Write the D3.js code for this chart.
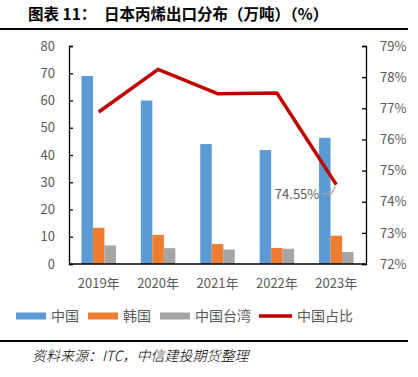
<!DOCTYPE html>
<html>
<head>
<meta charset="utf-8">
<script src="https://cdn.jsdelivr.net/npm/d3@7"></script>
<style>
  body { margin: 0; background: #fff; }
  text { font-family: "Noto Sans CJK SC", "DejaVu Sans", sans-serif; }
</style>
</head>
<body>
<div id="chart"></div>
<script>
var years = ["2019年", "2020年", "2021年", "2022年", "2023年"];
var china = [69.0, 60.0, 44.0, 41.8, 46.3];
var korea = [13.3, 10.7, 7.3, 5.9, 10.4];
var taiwan = [6.8, 5.8, 5.3, 5.6, 4.4];
var chinaShare = [76.88, 78.25, 77.47, 77.49, 74.55];
var leftTicks = [0, 10, 20, 30, 40, 50, 60, 70, 80];
var rightTicks = [72, 73, 74, 75, 76, 77, 78, 79];

var W = 418, H = 377;
var margin = { top: 46, right: 52, bottom: 113, left: 69 };
var width = W - margin.left - margin.right;
var height = H - margin.top - margin.bottom;

var svg = d3.select("#chart").append("svg")
    .attr("width", W).attr("height", H);

// title + rules
svg.append("text")
    .attr("x", 28).attr("y", 20)
    .attr("font-size", 15.5).attr("font-weight", "bold").attr("fill", "#000")
    .text("图表 11：");
svg.append("text")
    .attr("x", 104).attr("y", 20)
    .attr("font-size", 15.5).attr("font-weight", "bold").attr("fill", "#000")
    .text("日本丙烯出口分布（万吨）（%）");
svg.append("line").attr("x1", 0).attr("x2", 408).attr("y1", 29).attr("y2", 29)
    .attr("stroke", "#000").attr("stroke-width", 2);
svg.append("line").attr("x1", 0).attr("x2", 408).attr("y1", 341).attr("y2", 341)
    .attr("stroke", "#000").attr("stroke-width", 2);
svg.append("text")
    .attr("x", 32).attr("y", 361)
    .attr("font-size", 14).attr("font-style", "italic").attr("font-weight", 300).attr("fill", "#000")
    .text("资料来源：ITC，中信建投期货整理");

var g = svg.append("g").attr("transform", "translate(" + margin.left + "," + margin.top + ")");

var x = d3.scaleBand().domain(years).range([0, width]);
var y = d3.scaleLinear().domain([0, 80]).range([height, 0]);
var y2 = d3.scaleLinear().domain([72, 79]).range([height, 0]);

var series = [
    { name: "中国", values: china, color: "#5B9BD5" },
    { name: "韩国", values: korea, color: "#ED7D31" },
    { name: "中国台湾", values: taiwan, color: "#A5A5A5" }
];
var barW = 11.5;

series.forEach(function (s, si) {
    g.selectAll(".bar" + si)
        .data(s.values)
        .enter()
        .append("rect")
        .attr("x", function (d, i) { return x(years[i]) + x.bandwidth() / 2 - 1.5 * barW + si * barW; })
        .attr("y", function (d) { return y(d); })
        .attr("width", barW)
        .attr("height", function (d) { return height - y(d); })
        .attr("fill", s.color);
});

// axes
var leftAxis = g.append("g").call(d3.axisLeft(y).tickValues(leftTicks).tickSize(-4).tickPadding(14));
var rightAxis = g.append("g").attr("transform", "translate(" + width + ",0)")
    .call(d3.axisRight(y2).tickValues(rightTicks).tickSize(-4).tickPadding(14)
        .tickFormat(function (d) { return d + "%"; }));
[leftAxis, rightAxis].forEach(function (ax) {
    ax.select(".domain").attr("stroke", "#000").attr("stroke-width", 1.3);
    ax.selectAll(".tick line").attr("stroke", "#000").attr("stroke-width", 1.3);
    ax.selectAll("text").attr("fill", "#595959").attr("font-size", 13)
        .style("font-family", "'Noto Sans CJK SC', sans-serif");
});
g.append("line").attr("x1", 0).attr("x2", width).attr("y1", height).attr("y2", height)
    .attr("stroke", "#000").attr("stroke-width", 1.3);

g.selectAll(".xlab").data(years).enter().append("text")
    .attr("x", function (d) { return x(d) + x.bandwidth() / 2; })
    .attr("y", height + 24)
    .attr("text-anchor", "middle").attr("font-size", 13).attr("fill", "#595959")
    .text(function (d) { return d; });

// line
var line = d3.line()
    .x(function (d, i) { return x(years[i]) + x.bandwidth() / 2; })
    .y(function (d) { return y2(d); });
g.append("path").datum(chinaShare)
    .attr("d", line).attr("fill", "none")
    .attr("stroke", "#C00000").attr("stroke-width", 3.5).attr("stroke-linejoin", "round");

// data label with leader
var lx = x(years[4]) + x.bandwidth() / 2, ly = y2(chinaShare[4]);
g.append("polyline")
    .attr("points", [[lx - 14, ly + 9], [lx - 5, ly + 9], [lx - 1, ly + 2]].join(" "))
    .attr("fill", "none").attr("stroke", "#A6A6A6").attr("stroke-width", 1.2);
g.append("text")
    .attr("x", lx - 17).attr("y", ly + 14)
    .attr("text-anchor", "end").attr("font-size", 13).attr("fill", "#595959")
    .text(chinaShare[4].toFixed(2) + "%");

// legend
var legendItems = series.map(function (s) { return { name: s.name, color: s.color, type: "rect" }; })
    .concat([{ name: "中国占比", color: "#C00000", type: "line" }]);
var legendX = [16, 88, 160, 259];
var lg = svg.append("g").attr("transform", "translate(0,316)");
legendItems.forEach(function (d, i) {
    var it = lg.append("g").attr("transform", "translate(" + legendX[i] + ",0)");
    if (d.type === "rect") {
        it.append("rect").attr("x", 0).attr("y", -3.5).attr("width", 30).attr("height", 7).attr("fill", d.color);
    } else {
        it.append("line").attr("x1", 0).attr("x2", 33).attr("y1", 0).attr("y2", 0)
            .attr("stroke", d.color).attr("stroke-width", 3.5);
    }
    it.append("text").attr("x", d.type === "rect" ? 35 : 38).attr("y", 5)
        .attr("font-size", 14).attr("fill", "#595959").text(d.name);
});
</script>
</body>
</html>
